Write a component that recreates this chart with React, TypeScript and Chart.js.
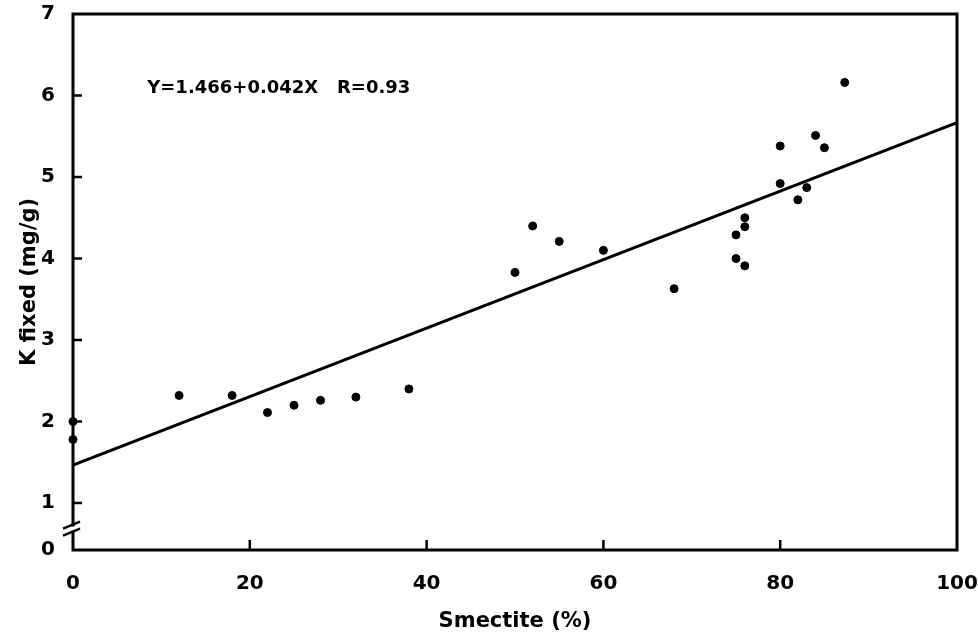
import React, { useEffect, useRef } from "react";
import { Chart, registerables } from "chart.js";

Chart.register(...registerables);

// Smectite content (%) and fixed K (mg/g)
const smectite = [0, 0, 12, 18, 22, 25, 28, 32, 38, 50, 52, 55, 60, 68, 75, 76, 75, 76, 76, 80, 82, 83, 80, 84, 85, 87.3];
const kFixed = [2.0, 1.78, 2.32, 2.32, 2.11, 2.2, 2.26, 2.3, 2.4, 3.83, 4.4, 4.21, 4.1, 3.63, 4.0, 3.91, 4.29, 4.39, 4.5, 4.92, 4.72, 4.87, 5.38, 5.51, 5.36, 6.16];

const xTicks = [0, 20, 40, 60, 80, 100];
const yTicks = [1, 2, 3, 4, 5, 6, 7];
const yAxisBottom = 0.424; // broken axis: bottom of the axis is labelled "0"
const yBottomLabel = "0";

const intercept = 1.466;
const slope = 0.042;
const equationText = "Y=1.466+0.042X   R=0.93";

const FONT = "'DejaVu Sans', 'Liberation Sans', Arial, sans-serif";

const framePlugin = {
  id: "frameAndBreak",
  afterDatasetsDraw(chart: any) {
    const { ctx, chartArea, scales } = chart;
    const { left, right, top, bottom } = chartArea;
    const x = scales.x;
    const y = scales.y;
    ctx.save();
    ctx.strokeStyle = "#000";
    ctx.fillStyle = "#000";
    ctx.lineWidth = 3;
    ctx.lineCap = "square";
    const y1 = y.getPixelForValue(1);
    const bTop = y1 + 22;
    const bBot = y1 + 29;
    ctx.beginPath();
    ctx.moveTo(left, bTop);
    ctx.lineTo(left, top);
    ctx.lineTo(right, top);
    ctx.lineTo(right, bottom);
    ctx.lineTo(left, bottom);
    ctx.lineTo(left, bBot);
    ctx.stroke();
    // break slashes
    ctx.lineWidth = 2.5;
    ctx.lineCap = "butt";
    for (const yy of [bTop, bBot]) {
      ctx.beginPath();
      ctx.moveTo(left - 10, yy + 3.5);
      ctx.lineTo(left + 7, yy - 3.5);
      ctx.stroke();
    }
    // inward ticks
    ctx.lineWidth = 2.5;
    ctx.beginPath();
    for (const v of yTicks) {
      if (v >= 7) continue;
      const py = y.getPixelForValue(v);
      ctx.moveTo(left, py);
      ctx.lineTo(left + 9, py);
    }
    for (const v of xTicks) {
      if (v <= 0 || v >= 100) continue;
      const px = x.getPixelForValue(v);
      ctx.moveTo(px, bottom);
      ctx.lineTo(px, bottom - 10);
    }
    ctx.stroke();
    // equation annotation
    ctx.font = `bold 18px ${FONT}`;
    ctx.textAlign = "left";
    ctx.textBaseline = "middle";
    ctx.fillText(equationText, x.getPixelForValue(8.4), y.getPixelForValue(6.09));
    ctx.restore();
  },
};

export default function App() {
  const ref = useRef<HTMLCanvasElement | null>(null);
  useEffect(() => {
    if (!ref.current) return;
    const chart = new Chart(ref.current, {
      type: "scatter",
      data: {
        datasets: [
          {
            type: "line",
            data: [
              { x: 0, y: intercept },
              { x: 100, y: intercept + slope * 100 },
            ],
            borderColor: "#000",
            borderWidth: 3,
            pointRadius: 0,
            fill: false,
          } as any,
          {
            data: smectite.map((v, i) => ({ x: v, y: kFixed[i] })),
            backgroundColor: "#000",
            borderColor: "#000",
            pointRadius: 4,
            pointStyle: "circle",
            clip: false,
          } as any,
        ],
      },
      options: {
        animation: false,
        responsive: false,
        layout: { padding: { top: 14, right: 21, left: 0, bottom: 0 } },
        plugins: { legend: { display: false }, tooltip: { enabled: false } },
        scales: {
          x: {
            type: "linear",
            min: 0,
            max: 100,
            grid: { display: false },
            border: { display: false },
            afterBuildTicks: (s: any) => {
              s.ticks = xTicks.map((v) => ({ value: v }));
            },
            afterFit: (s: any) => {
              s.height = 90;
              s.paddingLeft = 0;
              s.paddingRight = 0;
            },
            ticks: {
              padding: 14,
              color: "#000",
              maxRotation: 0,
              autoSkip: false,
              font: { family: FONT, size: 20, weight: "bold" },
            },
            title: {
              display: true,
              text: "Smectite (%)",
              color: "#000",
              padding: { top: 0, bottom: 6 },
              font: { family: FONT, size: 21, weight: "bold" },
            },
          },
          y: {
            type: "linear",
            min: yAxisBottom,
            max: 7,
            grid: { display: false },
            border: { display: false },
            afterBuildTicks: (s: any) => {
              s.ticks = [{ value: yAxisBottom }, ...yTicks.map((v) => ({ value: v }))];
            },
            afterFit: (s: any) => {
              s.width = 73;
              s.paddingTop = 0;
              s.paddingBottom = 0;
            },
            ticks: {
              padding: 10,
              color: "#000",
              autoSkip: false,
              callback: (v: any) => (v < 1 ? yBottomLabel : String(v)),
              font: { family: FONT, size: 20, weight: "bold" },
            },
            title: {
              display: true,
              text: "K fixed (mg/g)",
              color: "#000",
              padding: { top: 17, bottom: 0 },
              font: { family: FONT, size: 21, weight: "bold" },
            },
          },
        },
      },
      plugins: [framePlugin],
    });
    return () => chart.destroy();
  }, []);
  return (
    <div style={{ position: "fixed", left: 0, top: 0, width: 978, height: 640, background: "#fff" }}>
      <canvas ref={ref} width={978} height={640} />
    </div>
  );
}
